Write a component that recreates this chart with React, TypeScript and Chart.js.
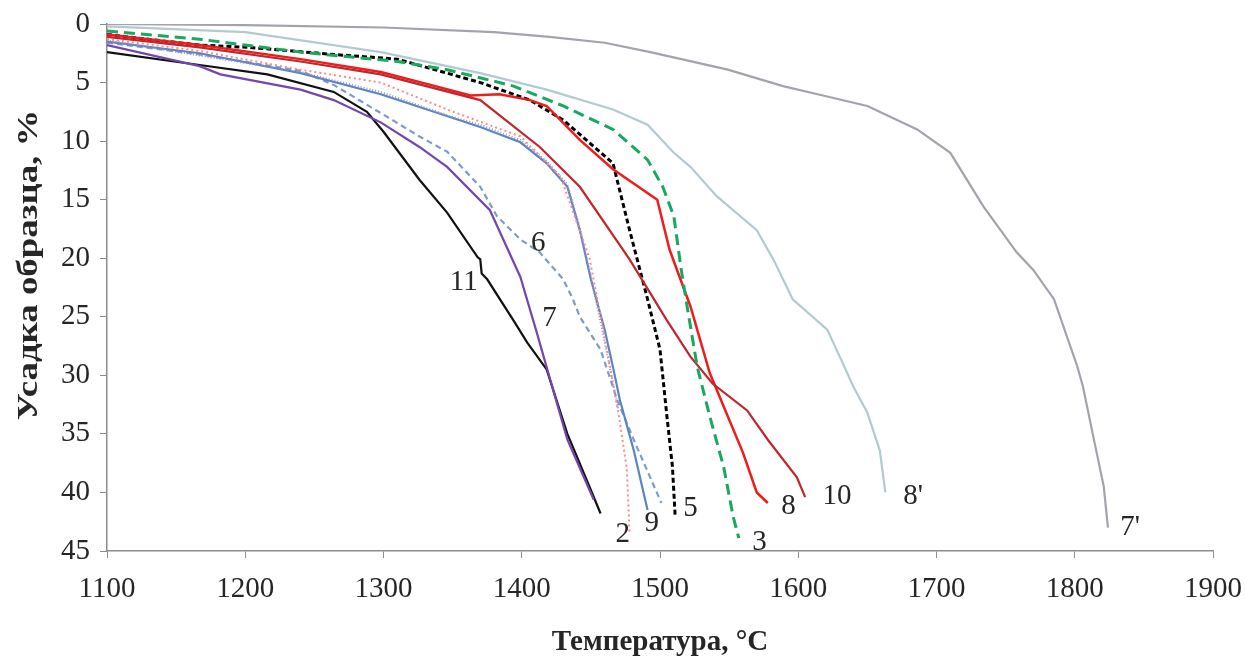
import React, { useEffect, useRef } from "react";
import { Chart, registerables } from "chart.js";

Chart.register(...registerables);

const FONT = '"Liberation Serif", "Times New Roman", serif';

// Axis ticks
const xTicks = [1100, 1200, 1300, 1400, 1500, 1600, 1700, 1800, 1900];
const yTicks = [0, 5, 10, 15, 20, 25, 30, 35, 40, 45];

// Curve 7'
const t7p = [1100, 1200, 1300, 1380, 1420, 1460, 1493, 1549, 1589, 1614, 1650, 1686, 1710, 1734, 1758, 1770, 1785, 1802, 1806, 1813, 1821, 1824];
const s7p = [0, 0.1, 0.3, 0.7, 1.1, 1.6, 2.4, 3.9, 5.3, 6.0, 7.0, 9.0, 11.0, 15.6, 19.5, 21, 23.5, 29.3, 31, 35, 39.5, 43];
// Curve 8'
const t8p = [1100, 1200, 1298, 1370, 1418, 1466, 1491, 1510, 1522, 1541, 1570, 1582, 1596, 1621, 1630, 1640, 1650, 1659, 1663];
const s8p = [0.2, 0.7, 2.4, 4.2, 5.6, 7.3, 8.6, 11.0, 12.2, 14.7, 17.6, 20.1, 23.5, 26.1, 28.4, 31, 33.2, 36.4, 40];
// Curve 3
const t3 = [1100, 1167, 1240, 1310, 1346, 1394, 1430, 1466, 1491, 1502, 1510, 1515, 1520, 1527, 1536, 1546, 1553, 1557];
const s3 = [0.6, 1.3, 2.4, 3.2, 3.9, 5.3, 7.0, 9.0, 11.6, 13.9, 16.4, 20.7, 24.4, 29.3, 33.5, 37.8, 42.1, 43.9];
// Curve 5
const t5 = [1100, 1167, 1203, 1264, 1310, 1370, 1406, 1430, 1466, 1478, 1491, 1500, 1505, 1509, 1511];
const s5 = [0.9, 1.8, 2.0, 2.6, 3.0, 5.0, 6.5, 8.2, 11.9, 17.6, 23.5, 27.8, 33.5, 37.8, 42.1];
// Curve 8
const t8 = [1100, 1167, 1240, 1298, 1334, 1363, 1384, 1406, 1418, 1442, 1466, 1498, 1507, 1522, 1536, 1549, 1560, 1570, 1578];
const s8 = [0.9, 1.8, 3.0, 4.1, 5.2, 6.1, 6.0, 6.5, 7.0, 9.9, 12.4, 15.0, 19.3, 24.1, 29.8, 33.5, 36.6, 40.0, 40.9];
// Curve 10
const t10 = [1100, 1167, 1240, 1298, 1370, 1413, 1442, 1478, 1505, 1522, 1538, 1563, 1578, 1599, 1605];
const s10 = [1.1, 2.0, 3.2, 4.3, 6.5, 10.5, 13.9, 20.1, 25.3, 28.4, 30.7, 33.0, 35.5, 38.7, 40.4];
// Curve 2
const t2 = [1100, 1167, 1240, 1298, 1346, 1399, 1428, 1449, 1462, 1471, 1476, 1478];
const s2 = [1.3, 2.3, 3.9, 5.0, 7.3, 9.6, 13, 20, 28, 34, 38, 43.5];
// Curve 4 (hatched, unlabeled)
const t4 = [1100, 1240, 1298, 1346, 1370, 1399, 1418, 1433, 1442, 1450, 1458, 1464, 1470];
const s4 = [1.4, 4.1, 5.8, 7.8, 8.6, 9.9, 11.7, 13.7, 17.4, 21.6, 26, 29.5, 33];
// Curve 9
const t9 = [1100, 1167, 1240, 1298, 1370, 1399, 1418, 1433, 1442, 1450, 1460, 1466, 1471, 1481, 1491];
const s9 = [1.5, 2.5, 4.2, 6.0, 8.8, 10.1, 11.9, 13.9, 17.6, 21.8, 26.1, 29.3, 32.1, 36.4, 41.5];
// Curve 6
const t6 = [1100, 1167, 1240, 1264, 1298, 1326, 1346, 1370, 1382, 1399, 1413, 1430, 1437, 1442, 1457, 1469, 1481, 1501];
const s6 = [1.6, 2.6, 4.0, 5.2, 7.6, 9.6, 10.9, 13.9, 16.4, 18.4, 19.5, 21.8, 23.5, 25, 27.8, 32.1, 35.5, 40.9];
// Curve 7
const t7 = [1100, 1167, 1182, 1240, 1264, 1298, 1326, 1346, 1377, 1399, 1411, 1418, 1433, 1452];
const s7 = [1.8, 3.6, 4.3, 5.6, 6.5, 8.4, 10.5, 12.2, 15.9, 21.6, 26.4, 29.3, 35.5, 40.6];
// Curve 11
const t11 = [1100, 1167, 1216, 1264, 1288, 1300, 1326, 1346, 1368, 1370, 1371, 1375, 1394, 1404, 1418, 1433, 1449, 1457];
const s11 = [2.4, 3.5, 4.3, 5.8, 7.5, 9.2, 13.3, 16.1, 19.9, 20.1, 21.3, 21.8, 25.3, 27.2, 29.5, 35, 39.5, 41.8];

// Curve labels
const labelTexts = ["2", "9", "5", "3", "8", "10", "8'", "7'", "6", "11", "7"];
const labelT = [1473, 1494, 1522, 1572, 1593, 1628, 1683, 1840, 1412, 1358, 1420];
const labelV = [43.6, 42.6, 41.4, 44.3, 41.2, 40.3, 40.3, 43.0, 18.7, 22.1, 25.1];

const yTitle = "Усадка образца, %";

const pts = (t: number[], s: number[]) => t.map((x, i) => ({ x, y: s[i] }));

const labelPlugin = {
  id: "curveLabels",
  afterDatasetsDraw(chart: any) {
    const { ctx, scales } = chart;
    ctx.save();
    ctx.font = `29px ${FONT}`;
    ctx.fillStyle = "#262626";
    ctx.textAlign = "center";
    ctx.textBaseline = "middle";
    labelTexts.forEach((txt, i) => {
      ctx.fillText(txt, scales.x.getPixelForValue(labelT[i]), scales.y.getPixelForValue(labelV[i]));
    });
    // vertical axis title, slightly stretched along its length like the reference
    ctx.translate(30, 265);
    ctx.rotate(-Math.PI / 2);
    ctx.scale(1.27, 1);
    ctx.font = `bold 29px ${FONT}`;
    ctx.fillText(yTitle, 0, 0);
    ctx.restore();
  },
};

export default function App() {
  const ref = useRef<HTMLCanvasElement>(null);
  useEffect(() => {
    document.body.style.margin = "0";
    const mk = (label: string, t: number[], s: number[], color: string, width: number, dash: number[] = []) => ({
      label,
      data: pts(t, s),
      borderColor: color,
      backgroundColor: color,
      borderWidth: width,
      borderDash: dash,
      pointRadius: 0,
      fill: false,
      tension: 0,
    });
    const chart = new Chart(ref.current as HTMLCanvasElement, {
      type: "line",
      data: {
        datasets: [
          mk("7'", t7p, s7p, "#a3a3ad", 2.2),
          mk("8'", t8p, s8p, "#b2cad0", 2.2),
          mk("3", t3, s3, "#18a860", 3, [11, 6]),
          mk("10", t10, s10, "#c0262b", 2.2),
          mk("8", t8, s8, "#ee1c1c", 2.5),
          mk("5", t5, s5, "#000000", 3, [5, 3]),
          mk("2", t2, s2, "#ff8a8a", 2, [2, 3]),
          mk("4", t4, s4, "#9a90c8", 2, [1, 2]),
          mk("9", t9, s9, "#5a86bf", 2.2),
          mk("6", t6, s6, "#7c9ccc", 2.2, [6, 4]),
          mk("7", t7, s7, "#7446ae", 2.2),
          mk("11", t11, s11, "#111111", 2.2),
        ],
      },
      options: {
        responsive: false,
        animation: false,
        layout: { padding: { left: 0, right: 32, top: 24, bottom: 0 } },
        plugins: { legend: { display: false }, tooltip: { enabled: false } },
        scales: {
          x: {
            type: "linear",
            min: 1100,
            max: 1900,
            afterBuildTicks: (s: any) => {
              s.ticks = xTicks.map((v) => ({ value: v }));
            },
            afterFit: (s: any) => {
              s.height = 109;
              s.paddingLeft = 0;
              s.paddingRight = 0;
            },
            border: { display: true, color: "#8c8c8c", width: 1.5 },
            grid: { display: true, drawOnChartArea: false, drawTicks: true, tickLength: 7, color: "#8c8c8c" },
            ticks: {
              color: "#262626",
              font: { family: FONT, size: 29 },
              padding: 14,
              maxRotation: 0,
              callback: (v: any) => String(v),
            },
            title: {
              display: true,
              text: "Температура, °C",
              color: "#262626",
              font: { family: FONT, size: 29, weight: "bold" },
              padding: { top: 8, bottom: 0 },
            },
          },
          y: {
            type: "linear",
            reverse: true,
            min: 0,
            max: 45,
            afterBuildTicks: (s: any) => {
              s.ticks = yTicks.map((v) => ({ value: v }));
            },
            afterFit: (s: any) => {
              s.width = 107;
              s.paddingTop = 0;
              s.paddingBottom = 0;
            },
            border: { display: true, color: "#8c8c8c", width: 1.5 },
            grid: { display: true, drawOnChartArea: false, drawTicks: true, tickLength: 7, color: "#8c8c8c" },
            ticks: {
              color: "#262626",
              font: { family: FONT, size: 29 },
              padding: 10,
              callback: (v: any) => String(v),
            },
            title: { display: false },
          },
        },
      },
      plugins: [labelPlugin],
    } as any);
    return () => chart.destroy();
  }, []);
  return (
    <div style={{ width: 1245, height: 660, background: "#fff" }}>
      <canvas ref={ref} width={1245} height={660} />
    </div>
  );
}
